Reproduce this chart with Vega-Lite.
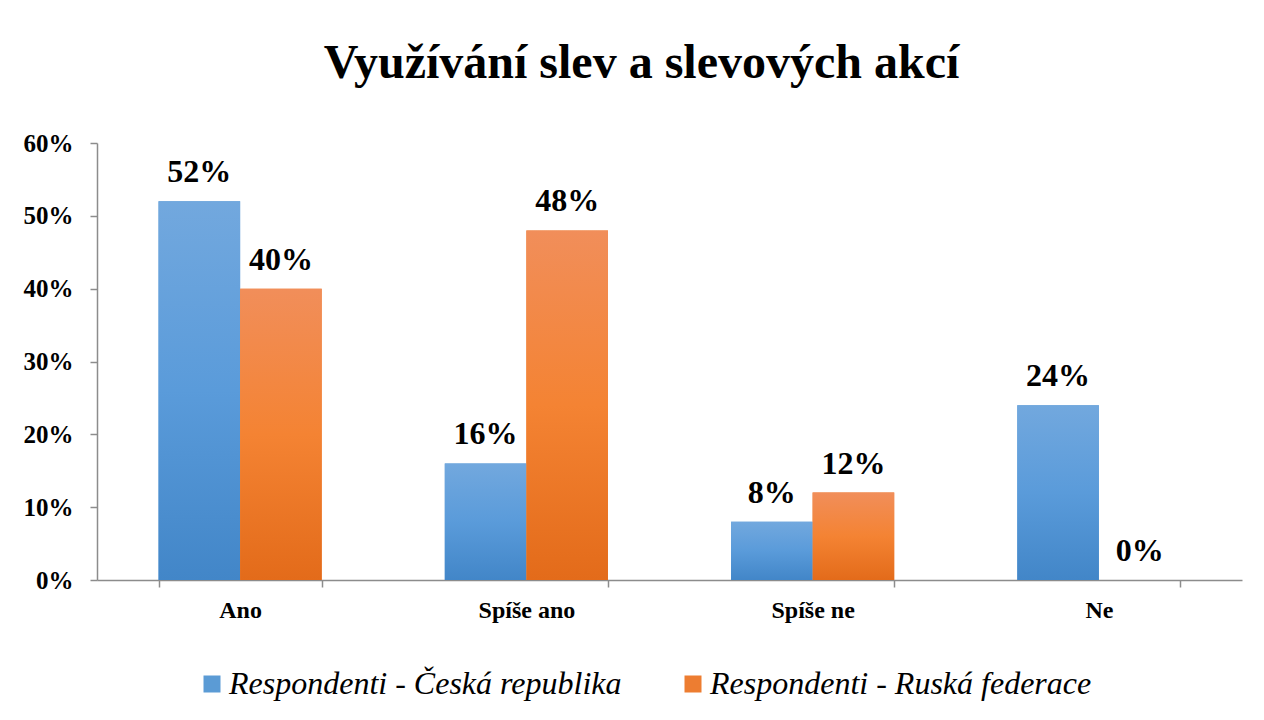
{
  "$schema": "https://vega.github.io/schema/vega-lite/v6.json",
  "autosize": {"type": "none"},
  "width": 1145,
  "height": 437,
  "padding": {"left": 97, "top": 143, "right": 22, "bottom": 140},
  "background": "white",
  "config": {
    "font": "Liberation Serif",
    "view": {"stroke": null},
    "axis": {"grid": false, "domainColor": "#8c8c8c", "tickColor": "#8c8c8c", "domainWidth": 1.5, "tickWidth": 1.5}
  },
  "title": {
    "text": "Využívání slev a slevových akcí",
    "font": "Liberation Serif",
    "fontSize": 48,
    "fontWeight": "bold",
    "color": "black",
    "anchor": "middle",
    "baseline": "alphabetic",
    "offset": 5,
    "dx": -28
  },
  "data": {
    "values": [
      {"kategorie": "Ano", "skupina": "Respondenti - Česká republika", "podil": 0.52},
      {"kategorie": "Ano", "skupina": "Respondenti - Ruská federace", "podil": 0.40},
      {"kategorie": "Spíše ano", "skupina": "Respondenti - Česká republika", "podil": 0.16},
      {"kategorie": "Spíše ano", "skupina": "Respondenti - Ruská federace", "podil": 0.48},
      {"kategorie": "Spíše ne", "skupina": "Respondenti - Česká republika", "podil": 0.08},
      {"kategorie": "Spíše ne", "skupina": "Respondenti - Ruská federace", "podil": 0.12},
      {"kategorie": "Ne", "skupina": "Respondenti - Česká republika", "podil": 0.24},
      {"kategorie": "Ne", "skupina": "Respondenti - Ruská federace", "podil": 0.0}
    ]
  },
  "encoding": {
    "x": {
      "field": "kategorie",
      "type": "nominal",
      "sort": ["Ano", "Spíše ano", "Spíše ne", "Ne"],
      "scale": {"paddingInner": 0.43, "paddingOuter": 0.215},
      "axis": {
        "title": null,
        "labelAngle": 0,
        "labelFont": "Liberation Serif",
        "labelFontSize": 24,
        "labelFontWeight": "bold",
        "labelColor": "black",
        "labelBaseline": "alphabetic",
        "labelPadding": 30,
        "tickSize": 7,
        "tickBand": "extent"
      }
    },
    "xOffset": {
      "field": "skupina",
      "type": "nominal",
      "sort": ["Respondenti - Česká republika", "Respondenti - Ruská federace"],
      "scale": {"paddingInner": 0, "paddingOuter": 0}
    },
    "y": {
      "field": "podil",
      "type": "quantitative",
      "scale": {"domain": [0, 0.6], "nice": false},
      "axis": {
        "title": null,
        "format": ".0%",
        "values": [0, 0.1, 0.2, 0.3, 0.4, 0.5, 0.6],
        "labelFont": "Liberation Serif",
        "labelFontSize": 25,
        "labelFontWeight": "bold",
        "labelColor": "black",
        "labelPadding": 17,
        "tickSize": 7
      }
    }
  },
  "layer": [
    {
      "mark": {"type": "bar"},
      "encoding": {
        "color": {
          "field": "skupina",
          "type": "nominal",
          "sort": ["Respondenti - Česká republika", "Respondenti - Ruská federace"],
          "scale": {"range": ["#5b9bd5", "#ed7d31"]},
          "legend": {
            "title": null,
            "orient": "none",
            "direction": "horizontal",
            "legendX": 99,
            "legendY": 525,
            "symbolType": "square",
            "symbolSize": 289,
            "symbolStrokeWidth": 0,
            "labelFont": "Liberation Serif",
            "labelFontSize": 32,
            "labelFontStyle": "italic",
            "labelColor": "black",
            "labelOffset": 1,
            "labelLimit": 600,
            "columnPadding": 55
          }
        }
      }
    },
    {
      "mark": {"type": "bar"},
      "encoding": {
        "color": {
          "condition": {
            "test": "datum.skupina == 'Respondenti - Česká republika'",
            "value": {
              "gradient": "linear", "x1": 0, "y1": 0, "x2": 0, "y2": 1,
              "stops": [
                {"offset": 0, "color": "#72a8de"},
                {"offset": 0.5, "color": "#5a9bda"},
                {"offset": 1, "color": "#4286c8"}
              ]
            }
          },
          "value": {
            "gradient": "linear", "x1": 0, "y1": 0, "x2": 0, "y2": 1,
            "stops": [
              {"offset": 0, "color": "#f18e5a"},
              {"offset": 0.5, "color": "#f48333"},
              {"offset": 1, "color": "#e36b1a"}
            ]
          }
        }
      }
    },
    {
      "mark": {
        "type": "text",
        "font": "Liberation Serif",
        "fontSize": 32,
        "fontWeight": "bold",
        "color": "black",
        "baseline": "alphabetic",
        "align": "center",
        "dy": -19
      },
      "encoding": {
        "text": {"field": "podil", "type": "quantitative", "format": ".0%"}
      }
    }
  ]
}
